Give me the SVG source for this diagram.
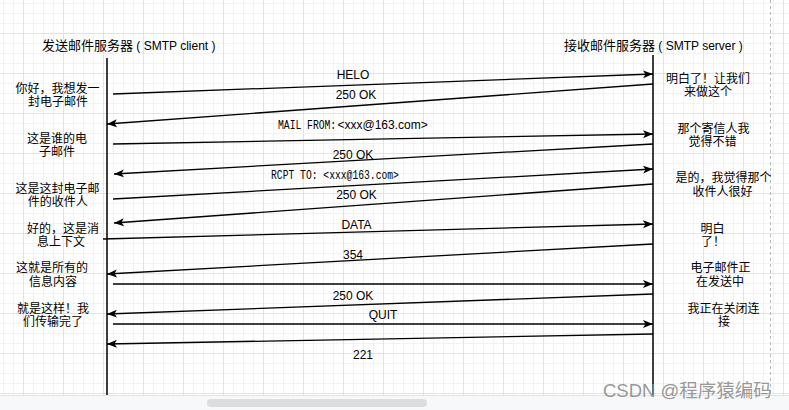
<svg xmlns="http://www.w3.org/2000/svg" width="789" height="410" viewBox="0 0 789 410">
  <defs>
    <pattern id="minor" patternUnits="userSpaceOnUse" x="3" y="3" width="10" height="10">
      <path d="M0.5,0 V10 M0,0.5 H10" stroke="#f2f2f2" stroke-width="1" fill="none"/>
    </pattern>
    <pattern id="major" patternUnits="userSpaceOnUse" x="23" y="33" width="40" height="40">
      <path d="M0.5,0 V40 M0,0.5 H40" stroke="#e3e3e3" stroke-width="1" fill="none"/>
    </pattern>
    <marker id="arr" markerUnits="userSpaceOnUse" markerWidth="11" markerHeight="9" refX="10" refY="4.5" orient="auto">
      <path d="M0,0.5 L10,4.5 L0,8.5 L2.5,4.5 Z" fill="#000"/>
    </marker>
    <style>
      .t { font-family: "Liberation Sans", "Noto Sans CJK SC", sans-serif; font-size: 12px; fill: #000; }
      .c { text-anchor: middle; }
      .m { font-family: "Liberation Mono", "Noto Sans CJK SC", monospace; font-size: 9.7px; fill: #000; }
      .msg { stroke: #000; stroke-width: 1.3; fill: none; marker-end: url(#arr); }
      .life { stroke: #000; stroke-width: 1.5; fill: none; }
    </style>
  </defs>

  <rect x="0" y="0" width="789" height="395" fill="#ffffff"/>
  <rect x="0" y="0" width="789" height="395" fill="url(#minor)"/>
  <rect x="0" y="0" width="789" height="395" fill="url(#major)"/>
  <line x1="770.5" y1="0" x2="770.5" y2="395" stroke="#b8b8b8" stroke-width="1" stroke-dasharray="3 3"/>

  <g id="client">
    <text class="t" x="42" y="50"><tspan font-size="13">发送邮件服务器</tspan><tspan> ( SMTP client )</tspan></text>
    <line class="life" x1="107" y1="58" x2="107" y2="395"/>
  </g>
  <g id="server">
    <text class="t" x="564" y="50"><tspan font-size="13">接收邮件服务器</tspan><tspan> ( SMTP server )</tspan></text>
    <line class="life" x1="653" y1="55" x2="653" y2="395"/>
  </g>

  <g id="connectors">
    <line class="msg" x1="113" y1="94" x2="653" y2="74"/>
    <line class="msg" x1="653" y1="84" x2="107" y2="124"/>
    <line class="msg" x1="113" y1="144" x2="653" y2="134"/>
    <line class="msg" x1="653" y1="144" x2="114" y2="174"/>
    <line class="msg" x1="113" y1="199" x2="653" y2="169"/>
    <line class="msg" x1="653" y1="184" x2="114" y2="223"/>
    <line class="msg" x1="103" y1="239" x2="653" y2="224"/>
    <line class="msg" x1="653" y1="244" x2="107" y2="274"/>
    <line class="msg" x1="113" y1="284" x2="653" y2="284"/>
    <line class="msg" x1="653" y1="294" x2="107" y2="314"/>
    <line class="msg" x1="113" y1="324" x2="653" y2="324"/>
    <line class="msg" x1="653" y1="334" x2="107" y2="344"/>
  </g>

  <g id="message-labels">
    <text class="t c" x="353" y="78.5">HELO</text>
    <text class="t c" x="356" y="99">250 OK</text>
    <text class="m" transform="translate(278,128.5) scale(1,1.25)" x="0" y="0">MAIL FROM:</text>
    <text class="t" x="337.5" y="128.5">&lt;xxx@163.com&gt;</text>
    <text class="t c" x="353" y="159">250 OK</text>
    <text class="m" font-size="10" transform="translate(271,179) scale(1,1.25)" x="0" y="0">RCPT TO: &lt;xxx@163.com&gt;</text>
    <text class="t c" x="356.5" y="199">250 OK</text>
    <text class="t c" x="356.5" y="229">DATA</text>
    <text class="t c" x="353" y="259">354</text>
    <text class="t c" x="353" y="299.5">250 OK</text>
    <text class="t c" x="383" y="318.5">QUIT</text>
    <text class="t c" x="363" y="359">221</text>
  </g>

  <g id="client-notes">
    <text class="t c" x="57.5" y="92.5">你好，我想发一</text>
    <text class="t c" x="58" y="106">封电子邮件</text>
    <text class="t c" x="57" y="142.5">这是谁的电</text>
    <text class="t c" x="57" y="156">子邮件</text>
    <text class="t c" x="57.5" y="192.5">这是这封电子邮</text>
    <text class="t c" x="57.8" y="206">件的收件人</text>
    <text class="t c" x="63" y="232.5">好的，这是消</text>
    <text class="t c" x="61" y="246">息上下文</text>
    <text class="t c" x="52" y="272">这就是所有的</text>
    <text class="t c" x="53" y="285.5">信息内容</text>
    <text class="t c" x="53" y="312.5">就是这样！我</text>
    <text class="t c" x="53" y="326">们传输完了</text>
  </g>

  <g id="server-notes">
    <text class="t c" x="708" y="82.5">明白了！让我们</text>
    <text class="t c" x="708" y="96">来做这个</text>
    <text class="t c" x="713.5" y="132.5">那个寄信人我</text>
    <text class="t c" x="712.5" y="146">觉得不错</text>
    <text class="t c" x="723.5" y="181.5">是的，我觉得那个</text>
    <text class="t c" x="722.5" y="196">收件人很好</text>
    <text class="t c" x="712.5" y="232.5">明白</text>
    <text class="t c" x="713" y="246">了！</text>
    <text class="t c" x="720.5" y="272">电子邮件正</text>
    <text class="t c" x="720" y="285.5">在发送中</text>
    <text class="t c" x="723.5" y="312.5">我正在关闭连</text>
    <text class="t c" x="724" y="326">接</text>
  </g>

  <rect x="0" y="395" width="789" height="15" fill="#f7f8fa"/>
  <line x1="0" y1="395.5" x2="789" y2="395.5" stroke="#e4e4e4" stroke-width="1"/>
  <rect x="207" y="399" width="220" height="8" rx="4" fill="#dcdde0"/>

  <text x="603" y="397" font-family="Liberation Sans, Noto Sans CJK SC, sans-serif" font-size="18.5" fill="#8c8c8c" fill-opacity="0.9">CSDN @程序猿编码</text>
</svg>
